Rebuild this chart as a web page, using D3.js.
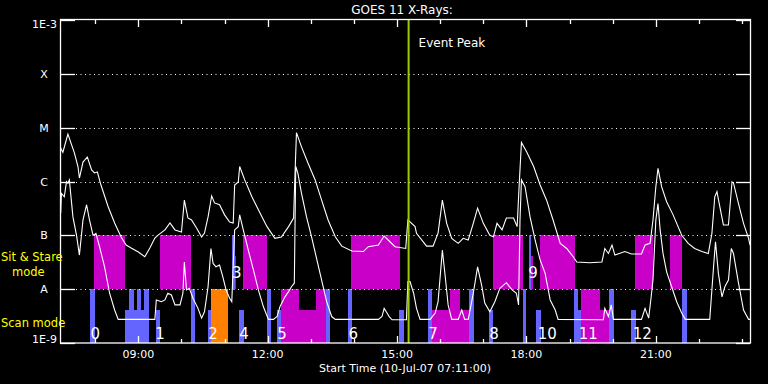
<!DOCTYPE html>
<html>
<head>
<meta charset="utf-8">
<script src="https://cdn.jsdelivr.net/npm/d3@7"></script>
<style>
body { margin: 0; background: #000; }
text { font-family: "DejaVu Sans", sans-serif; }
</style>
</head>
<body>
<div id="chart"></div>
<script>
// chart texts
const title = "GOES 11 X-Rays:";
const xName = "Start Time (10-Jul-07 07:11:00)";
const timeRange = ["07:11", "23:11"];
const eventPeak = "15:16";

// flux levels on the left axis
const levelNames = ["1E-9", "A", "B", "C", "M", "X", "1E-3"];
const levelFlux = [1e-9, 1e-8, 1e-7, 1e-6, 1e-5, 1e-4, 1e-3];

// GOES long channel (1-8 A)
const longTime = ["07:12","07:13","07:15","07:22","07:31","07:36","07:38","07:43","07:49","07:55","07:59","08:03","08:08","08:18","08:27","08:36","08:43","08:50","09:00","09:09","09:16","09:23","09:27","09:37","09:44","09:51","10:00","10:04","10:09","10:14","10:21","10:28","10:32","10:37","10:42","10:46","10:53","11:00","11:07","11:12","11:14","11:19","11:21","11:28","11:38","11:47","11:59","12:10","12:19","12:29","12:36","12:38","12:40","12:47","12:56","13:06","13:15","13:24","13:34","13:43","13:57","14:13","14:20","14:34","14:42","14:50","14:57","15:12","15:15","15:25","15:27","15:41","15:50","15:57","16:03","16:09","16:16","16:25","16:32","16:39","16:46","16:52","17:00","17:09","17:14","17:19","17:26","17:32","17:42","17:47","17:50","17:53","18:00","18:10","18:19","18:28","18:37","18:47","18:56","19:05","19:10","19:28","19:45","19:49","19:54","19:59","20:03","20:17","20:26","20:40","20:45","20:52","20:56","21:00","21:03","21:08","21:15","21:24","21:36","21:45","21:54","22:04","22:13","22:18","22:22","22:25","22:29","22:34","22:41","22:46","22:48","22:55","23:02","23:09","23:11"];
const longFlux = [4.2e-6,3.9e-6,3.5e-6,7.6e-6,3.4e-6,1.9e-6,1.16e-6,2.3e-6,2.85e-6,1.64e-6,1.44e-6,1.5e-6,8.6e-7,3.4e-7,1.7e-7,9.3e-8,6.6e-8,5.8e-8,4.9e-8,4.0e-8,5.8e-8,8.9e-8,1.0e-7,1.26e-7,1.7e-7,1.26e-7,1.15e-7,4.5e-7,2.1e-7,1.93e-7,1.37e-7,9.3e-8,1.1e-7,2.2e-7,5.4e-7,4.0e-7,3.7e-7,2.4e-7,1.77e-7,1.7e-7,8.6e-7,9.8e-7,1.9e-6,1.07e-6,5.2e-7,3.0e-7,1.45e-7,8.8e-8,9.3e-8,1.45e-7,2.1e-7,1.44e-6,8.1e-6,4.4e-6,2.2e-6,1.07e-6,4.5e-7,1.93e-7,9.4e-8,6.3e-8,5.1e-8,5.0e-8,6.15e-8,6.6e-8,9.7e-8,7.6e-8,6.15e-8,5.7e-8,1.93e-7,1.45e-7,1.09e-7,6.3e-8,6.3e-8,1.1e-7,4.5e-7,1.67e-7,8.8e-8,7.1e-8,8.8e-8,8.2e-8,1.67e-7,3.2e-7,1.67e-7,1.0e-7,9.4e-8,1.67e-7,1.26e-7,2.1e-7,2.1e-7,1.45e-7,9.4e-7,5.3e-6,3.6e-6,1.9e-6,8.6e-7,4.5e-7,1.93e-7,7.1e-8,5.7e-8,4.0e-8,3.2e-8,3.1e-8,3.2e-8,5.7e-8,4.6e-8,6.6e-8,4.3e-8,5.0e-8,4.5e-8,4.5e-8,6.6e-8,7.1e-8,1.93e-7,8.0e-7,1.76e-6,8.0e-7,4.2e-7,2.4e-7,1.0e-7,7.1e-8,5.7e-8,5.0e-8,4.6e-8,1.09e-7,5.2e-7,6.5e-7,3.4e-7,1.56e-7,1.56e-7,9.9e-7,9.4e-7,3.9e-7,1.67e-7,8.8e-8,6.6e-8];

// GOES short channel (0.5-4 A)
const shortTime = ["07:12","07:13","07:17","07:20","07:22","07:24","07:29","07:34","07:38","07:43","07:48","07:52","07:57","08:01","08:06","08:13","08:20","08:27","08:32","09:23","09:25","09:32","09:37","09:41","09:46","09:51","09:58","10:02","10:04","10:07","10:11","10:16","10:23","10:28","10:32","10:37","10:41","10:44","10:48","10:53","10:58","11:02","11:07","11:10","11:14","11:19","11:21","11:26","11:33","11:40","11:47","11:54","12:01","12:08","12:13","12:17","12:24","12:29","12:33","12:37","12:39","12:42","12:47","12:54","13:01","13:08","13:15","13:22","13:29","13:34","14:34","14:39","14:42","14:46","14:49","14:53","15:13","15:15","15:18","15:23","15:27","15:32","15:46","15:53","15:57","16:03","16:07","16:11","16:16","16:25","16:30","16:34","16:39","16:46","16:52","16:58","17:02","17:09","17:16","17:23","17:32","17:40","17:46","17:49","17:51","17:53","17:58","18:05","18:12","18:19","18:26","18:33","18:40","18:44","19:47","19:49","19:54","19:58","20:01","20:40","20:45","20:50","20:53","20:56","21:00","21:03","21:06","21:10","21:15","21:22","21:29","21:36","21:41","22:15","22:20","22:23","22:27","22:32","22:36","22:41","22:45","22:48","22:55","23:02","23:09","23:11"];
const shortFlux = [2.6e-7,6.0e-7,5.2e-7,9.9e-7,9.3e-7,1.07e-6,2.2e-7,1.0e-7,4.3e-8,1.93e-7,3.7e-7,1.93e-7,1.0e-7,1.09e-7,6.15e-8,2.6e-8,8.4e-9,4.1e-9,2.75e-9,2.75e-9,6.3e-9,5.85e-9,6.3e-9,8.4e-9,7.8e-9,5.1e-9,5.1e-9,8.4e-9,3.2e-8,9.7e-9,1.04e-8,6.8e-9,4.4e-9,2.9e-9,3.8e-9,1.11e-8,5.7e-8,3.0e-8,2.6e-8,2.8e-8,1.6e-8,9.7e-9,6.8e-9,5.85e-9,1.26e-7,1.45e-7,2.4e-7,1.26e-7,5.3e-8,2.3e-8,9.7e-9,4.7e-9,2.75e-9,2.75e-9,3.1e-9,4.7e-9,7.2e-9,9.0e-9,1.11e-8,1.29e-8,1.9e-6,1.42e-6,6.0e-7,2.2e-7,9.4e-8,3.7e-8,1.48e-8,5.85e-9,3.1e-9,2.75e-9,2.75e-9,3.1e-9,4.4e-9,3.6e-9,3.1e-9,2.7e-9,2.7e-9,1.38e-8,1.38e-8,8.4e-9,4.4e-9,2.75e-9,2.75e-9,3.6e-9,5.85e-9,5.3e-8,1.7e-8,5.1e-9,2.75e-9,2.75e-9,4.1e-9,2.75e-9,2.75e-9,8.4e-9,2.6e-8,1.11e-8,5.5e-9,3.8e-9,5.85e-9,1.04e-8,1.32e-8,9.7e-9,8.4e-9,5.1e-9,1.93e-7,1.07e-6,8.0e-7,2.2e-7,8.2e-8,3.5e-8,1.97e-8,6.3e-9,4.1e-9,2.75e-9,2.7e-9,4.4e-9,3.1e-9,5.1e-9,2.75e-9,2.75e-9,4.4e-9,2.9e-9,6.3e-9,1.48e-8,1.93e-7,3.9e-7,1.26e-7,4.6e-8,2.1e-8,1.11e-8,5.85e-9,3.6e-9,2.75e-9,2.75e-9,2.3e-8,7.6e-8,1.97e-8,7.2e-9,1.11e-8,1.48e-8,5.7e-8,4.6e-8,1.29e-8,4.1e-9,2.75e-9,2.75e-9];

// observing blocks: [start, end, height, colour]
const scanBars = [
  ["07:53","07:59","tall","blue"],
  ["08:41","09:15","short","blue"],
  ["08:47","08:54","tall","blue"],
  ["08:58","09:04","tall","blue"],
  ["09:08","09:15","tall","blue"],
  ["09:25","09:30","short","blue"],
  ["10:13","10:19","tall","blue"],
  ["10:37","10:41","short","blue"],
  ["10:41","11:05","tall","orange"],
  ["11:20","11:27","short","blue"],
  ["11:59","12:05","tall","blue"],
  ["12:13","12:18","short","blue"],
  ["12:18","12:43","tall","magenta"],
  ["12:43","13:07","short","magenta"],
  ["13:07","13:21","tall","magenta"],
  ["13:21","13:27","tall","blue"],
  ["13:52","13:57","tall","blue"],
  ["15:03","15:10","short","blue"],
  ["15:43","15:49","tall","blue"],
  ["15:49","16:40","short","magenta"],
  ["16:13","16:28","tall","magenta"],
  ["16:40","16:47","tall","blue"],
  ["17:08","17:14","short","blue"],
  ["17:55","18:00","tall","blue"],
  ["18:13","18:20","short","blue"],
  ["19:06","19:12","tall","blue"],
  ["19:12","19:16","short","blue"],
  ["19:16","19:42","tall","magenta"],
  ["19:42","19:55","short","magenta"],
  ["19:55","20:02","tall","blue"],
  ["20:25","20:32","short","blue"],
  ["21:37","21:43","tall","blue"]
];
const stareBars = [
  ["07:58","08:42","tall","magenta"],
  ["09:30","10:13","tall","magenta"],
  ["11:10","11:14","tall","blue"],
  ["11:14","11:16","short","magenta"],
  ["11:26","11:59","tall","magenta"],
  ["13:56","15:04","tall","magenta"],
  ["17:14","17:55","tall","magenta"],
  ["18:03","18:06","tall","blue"],
  ["18:06","18:09","short","magenta"],
  ["18:19","19:08","tall","magenta"],
  ["20:31","20:56","tall","magenta"],
  ["21:20","21:37","tall","magenta"]
];

// numbered labels of the blocks
const blockLabels = ["0","1","2","3","4","5","6","7","8","9","10","11","12"];
const blockLabelTime = ["08:00","09:30","10:44","11:17","11:27","12:20","13:59","15:50","17:15","18:09","18:29","19:26","20:41"];
const blockLabelBand = ["scan","scan","scan","stare","scan","scan","scan","scan","scan","stare","scan","scan","scan"];

const W = 768, H = 384;
const mLeft = 60, mRight = 750, mTop = 20, mBottom = 343;
const colors = { blue: "#6464ff", magenta: "#c800c8", orange: "#ff8000" };
// band base / top levels
const bands = {
  scan:  { base: 1e-9, tall: 1e-8, short: 4.1e-9, label: 1.2e-9 },
  stare: { base: 1e-8, tall: 1e-7, short: 4.1e-8, label: 1.6e-8 }
};

const parse = d3.timeParse("%H:%M");

const svg = d3.select("#chart").append("svg")
  .attr("width", W).attr("height", H)
  .style("background", "#000")
  .style("display", "block");

const x = d3.scaleTime()
  .domain(timeRange.map(parse))
  .range([mLeft, mRight]);
const y = d3.scaleLog()
  .domain([1e-9, 1e-3])
  .range([mBottom, mTop]);

// blocks
function drawBars(list, band) {
  svg.append("g").attr("shape-rendering", "crispEdges")
    .selectAll("rect")
    .data(list)
    .join("rect")
    .attr("x", d => x(parse(d[0])))
    .attr("width", d => x(parse(d[1])) - x(parse(d[0])))
    .attr("y", d => y(bands[band][d[2]]))
    .attr("height", d => y(bands[band].base) - y(bands[band][d[2]]))
    .attr("fill", d => colors[d[3]]);
}
drawBars(scanBars, "scan");
drawBars(stareBars, "stare");

// dotted grid at flare levels
const gridLevels = levelFlux.slice(1, -1);
svg.append("g").selectAll("line")
  .data(gridLevels)
  .join("line")
  .attr("x1", mLeft + 16).attr("x2", mRight - 14)
  .attr("y1", d => Math.round(y(d)) + 0.5).attr("y2", d => Math.round(y(d)) + 0.5)
  .attr("stroke", "#fff").attr("stroke-width", 1)
  .attr("stroke-dasharray", "1 3.5");

// level ticks, both sides
const tickG = svg.append("g").attr("stroke", "#fff").attr("stroke-width", 1.3);
levelFlux.forEach(f => {
  const yy = Math.round(y(f)) + 0.5;
  tickG.append("line").attr("x1", mLeft).attr("x2", mLeft + 15).attr("y1", yy).attr("y2", yy);
  tickG.append("line").attr("x1", mRight - 14).attr("x2", mRight).attr("y1", yy).attr("y2", yy);
});

// time ticks top and bottom
const hours = d3.timeHour.every(1).range(x.domain()[0], x.domain()[1]);
hours.forEach(t => {
  const big = t.getHours() % 3 === 0;
  const len = big ? 7 : 4;
  const xx = Math.round(x(t)) + 0.5;
  tickG.append("line").attr("x1", xx).attr("x2", xx).attr("y1", mTop).attr("y2", mTop + len);
  tickG.append("line").attr("x1", xx).attr("x2", xx).attr("y1", mBottom).attr("y2", mBottom - len);
});

// flux curves
const line = d3.line()
  .x(d => x(parse(d[0])))
  .y(d => y(d[1]));
[[longTime, longFlux], [shortTime, shortFlux]].forEach(([t, f]) => {
  svg.append("path")
    .datum(t.map((tt, i) => [tt, f[i]]))
    .attr("fill", "none")
    .attr("stroke", "#fff")
    .attr("stroke-width", 1.1)
    .attr("d", line);
});

// event peak
svg.append("line")
  .attr("x1", x(parse(eventPeak))).attr("x2", x(parse(eventPeak)))
  .attr("y1", mTop).attr("y2", mBottom)
  .attr("stroke", "#99cc00").attr("stroke-width", 2);
svg.append("text")
  .attr("x", x(parse(eventPeak)) + 10).attr("y", 47)
  .attr("fill", "#fff").attr("font-size", 12)
  .text("Event Peak");

// frame
svg.append("rect")
  .attr("x", mLeft + 0.5).attr("y", mTop - 0.5)
  .attr("width", mRight - mLeft).attr("height", mBottom - mTop + 0.5)
  .attr("fill", "none").attr("stroke", "#fff").attr("stroke-width", 1.3);

// block numbers
svg.append("g").selectAll("text")
  .data(blockLabels)
  .join("text")
  .attr("x", (d, i) => x(parse(blockLabelTime[i])))
  .attr("y", (d, i) => y(bands[blockLabelBand[i]].label))
  .attr("text-anchor", "middle")
  .attr("fill", "#fff").attr("font-size", 15)
  .text(d => d);

// left axis labels
svg.append("g").selectAll("text")
  .data(levelNames)
  .join("text")
  .attr("x", (d, i) => (i === 0 || i === levelNames.length - 1) ? 57 : 44)
  .attr("y", (d, i) => i === 0 ? y(levelFlux[i]) : i === levelNames.length - 1 ? y(levelFlux[i]) + 8 : y(levelFlux[i]) + 4)
  .attr("text-anchor", (d, i) => (i === 0 || i === levelNames.length - 1) ? "end" : "middle")
  .attr("fill", "#fff").attr("font-size", 11)
  .text(d => d);

// mode labels
const yellow = "#ffff00";
svg.append("text").attr("x", 1).attr("y", 261).attr("fill", yellow).attr("font-size", 11.5).text("Sit & Stare");
svg.append("text").attr("x", 12).attr("y", 276).attr("fill", yellow).attr("font-size", 11.5).text("mode");
svg.append("text").attr("x", 1).attr("y", 327).attr("fill", yellow).attr("font-size", 11.5).text("Scan mode");

// time labels
const fmt = d3.timeFormat("%H:%M");
svg.append("g").selectAll("text")
  .data(hours.filter(t => t.getHours() % 3 === 0))
  .join("text")
  .attr("x", d => x(d)).attr("y", 358)
  .attr("text-anchor", "middle")
  .attr("fill", "#fff").attr("font-size", 11)
  .text(d => fmt(d));

svg.append("text")
  .attr("x", (mLeft + mRight) / 2).attr("y", 372)
  .attr("text-anchor", "middle")
  .attr("fill", "#fff").attr("font-size", 11)
  .text(xName);

svg.append("text")
  .attr("x", 402).attr("y", 14)
  .attr("text-anchor", "middle")
  .attr("fill", "#fff").attr("font-size", 12)
  .text(title);
</script>
</body>
</html>
